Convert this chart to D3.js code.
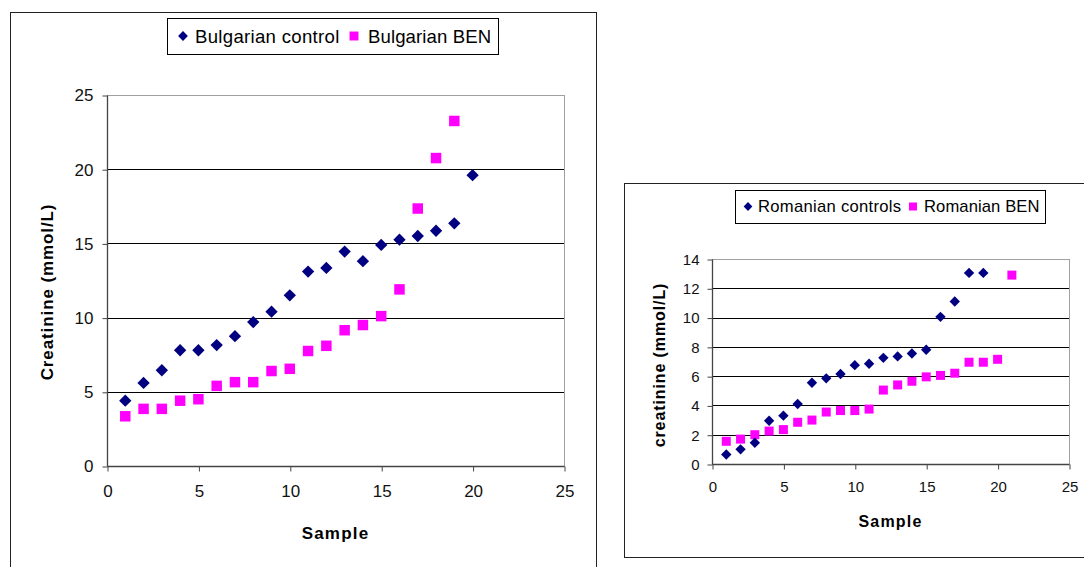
<!DOCTYPE html>
<html>
<head>
<meta charset="utf-8">
<script src="https://cdn.jsdelivr.net/npm/d3@7"></script>
<style>
  body { margin: 0; background: #fff; }
  svg text { font-family: "Liberation Sans", Arial, sans-serif; }
</style>
</head>
<body>
<svg id="chart" width="1084" height="567"></svg>
<script>
// Bulgarian panel
const bgControlX = [1,2,3,4,5,6,7,8,9,10,11,12,13,14,15,16,17,18,19,20];
const bgControl = [4.4,5.6,6.45,7.8,7.8,8.15,8.75,9.7,10.4,11.5,13.1,13.35,14.45,13.8,14.9,15.25,15.5,15.85,16.35,19.6];
const bgBenX = [1,2,3,4,5,6,7,8,9,10,11,12,13,14,15,16,17,18,19];
const bgBen = [3.35,3.85,3.85,4.4,4.5,5.4,5.65,5.65,6.4,6.55,7.75,8.1,9.15,9.5,10.1,11.9,17.35,20.75,23.25];
const bgYTicks = [0,5,10,15,20,25];
const bgXTicks = [0,5,10,15,20,25];

// Romanian panel
const roControlX = [1,2,3,4,5,6,7,8,9,10,11,12,13,14,15,16,17,18,19];
const roControl = [0.65,1.0,1.45,2.95,3.3,4.1,5.55,5.85,6.15,6.75,6.85,7.25,7.35,7.55,7.8,10.05,11.1,13.05,13.05];
const roBenX = [1,2,3,4,5,6,7,8,9,10,11,12,13,14,15,16,17,18,19,20,21];
const roBen = [1.55,1.7,2.0,2.25,2.35,2.85,3.0,3.55,3.65,3.65,3.75,5.05,5.4,5.65,5.95,6.05,6.2,6.95,6.95,7.15,12.9];
const roYTicks = [0,2,4,6,8,10,12,14];
const roXTicks = [0,5,10,15,20,25];

const svg = d3.select("#chart");

function drawPanel(cfg) {
  const g = svg.append("g");

  // outer frame
  g.append("rect")
    .attr("x", cfg.frame[0] + 0.5).attr("y", cfg.frame[1] + 0.5)
    .attr("width", cfg.frame[2]).attr("height", cfg.frame[3])
    .attr("fill", "#fff").attr("stroke", "#222").attr("stroke-width", 1);

  const x = d3.scaleLinear().domain([0, 25]).range([cfg.plot.left, cfg.plot.right]);
  const y = d3.scaleLinear().domain([0, cfg.yMax]).range([cfg.plot.bottom, cfg.plot.top]);

  // plot area border (light gray top/right)
  g.append("rect")
    .attr("x", cfg.plot.left + 0.5).attr("y", cfg.plot.top + 0.5)
    .attr("width", cfg.plot.right - cfg.plot.left)
    .attr("height", cfg.plot.bottom - cfg.plot.top)
    .attr("fill", "none").attr("stroke", "#a0a0a0");

  // gridlines
  g.append("g")
    .selectAll("line")
    .data(cfg.yTicks.filter(d => d > 0 && d < cfg.yMax))
    .join("line")
    .attr("x1", cfg.plot.left).attr("x2", cfg.plot.right)
    .attr("y1", d => Math.round(y(d)) + 0.5).attr("y2", d => Math.round(y(d)) + 0.5)
    .attr("stroke", "#000").attr("stroke-width", 1);

  // axes
  const yAxis = g.append("g")
    .attr("transform", `translate(${cfg.plot.left + 0.5},0.5)`)
    .call(d3.axisLeft(y).tickValues(cfg.yTicks).tickSize(5).tickPadding(cfg.yPad).tickFormat(d3.format("d")));
  const xAxis = g.append("g")
    .attr("transform", `translate(0.5,${cfg.plot.bottom + 0.5})`)
    .call(d3.axisBottom(x).tickValues(cfg.xTicks).tickSize(5).tickPadding(cfg.xPad).tickFormat(d3.format("d")));
  [yAxis, xAxis].forEach(a => {
    a.select(".domain").attr("stroke", "#444").attr("stroke-width", 1.3);
    a.selectAll(".tick line").attr("stroke", "#444");
    a.selectAll(".tick text")
      .attr("fill", "#111")
      .style("font-size", cfg.tickFont + "px")
      .style("font-family", "'Liberation Sans', Arial, sans-serif");
  });
  xAxis.select(".domain").attr("d", `M${cfg.plot.left},0H${cfg.plot.right}`);
  yAxis.select(".domain").attr("d", `M0,${cfg.plot.bottom}V${cfg.plot.top}`);

  // markers
  const diamond = d3.symbol().type(d3.symbolSquare).size(cfg.diamondSize);
  const square = d3.symbol().type(d3.symbolSquare).size(cfg.squareSize);

  g.append("g").selectAll("path")
    .data(cfg.benX.map((d, i) => [d, cfg.ben[i]]))
    .join("path")
    .attr("d", square)
    .attr("transform", d => `translate(${x(d[0])},${y(d[1])})`)
    .attr("fill", "#ff00ff");

  g.append("g").selectAll("path")
    .data(cfg.controlX.map((d, i) => [d, cfg.control[i]]))
    .join("path")
    .attr("d", diamond)
    .attr("transform", d => `translate(${x(d[0])},${y(d[1])}) rotate(45)`)
    .attr("fill", "#000080");

  // axis titles
  g.append("text")
    .attr("x", (cfg.plot.left + cfg.plot.right) / 2 + cfg.xTitleDx)
    .attr("y", cfg.xTitleY)
    .attr("text-anchor", "middle")
    .style("font-size", cfg.titleFont + "px")
    .style("font-weight", "bold")
    .style("letter-spacing", "1.2px")
    .text("Sample");

  g.append("text")
    .attr("transform", `translate(${cfg.yTitleX},${cfg.yTitleY}) rotate(-90)`)
    .attr("text-anchor", "middle")
    .style("font-size", cfg.titleFont + "px")
    .style("font-weight", "bold")
    .style("letter-spacing", "0.9px")
    .text(cfg.yTitle);

  // legend
  const lg = g.append("g");
  lg.append("rect")
    .attr("x", cfg.legend.x + 0.5).attr("y", cfg.legend.y + 0.5)
    .attr("width", cfg.legend.w).attr("height", cfg.legend.h)
    .attr("fill", "#fff").attr("stroke", "#000");
  const cy = cfg.legend.y + cfg.legend.h / 2;
  lg.append("path")
    .attr("d", d3.symbol().type(d3.symbolSquare).size(cfg.legend.mk * 0.6)())
    .attr("transform", `translate(${cfg.legend.x + cfg.legend.m1},${cy}) rotate(45)`)
    .attr("fill", "#000080");
  lg.append("text")
    .attr("x", cfg.legend.x + cfg.legend.t1).attr("y", cy).attr("dy", "0.36em")
    .style("font-size", cfg.legend.font + "px")
    .style("letter-spacing", "0.3px")
    .text(cfg.names[0]);
  lg.append("path")
    .attr("d", d3.symbol().type(d3.symbolSquare).size(cfg.legend.mk)())
    .attr("transform", `translate(${cfg.legend.x + cfg.legend.m2},${cy})`)
    .attr("fill", "#ff00ff");
  lg.append("text")
    .attr("x", cfg.legend.x + cfg.legend.t2).attr("y", cy).attr("dy", "0.36em")
    .style("font-size", cfg.legend.font + "px")
    .style("letter-spacing", "0.1px")
    .text(cfg.names[1]);
}

drawPanel({
  frame: [10, 12, 586, 600],
  plot: { left: 107, right: 564, top: 95, bottom: 466 },
  yMax: 25, yTicks: bgYTicks, xTicks: bgXTicks,
  control: bgControl, controlX: bgControlX, ben: bgBen, benX: bgBenX,
  diamondSize: 76, squareSize: 110,
  tickFont: 17, yPad: 9, xPad: 13,
  titleFont: 17, xTitleDx: 0, xTitleY: 539,
  yTitle: "Creatinine (mmol/L)", yTitleX: 53, yTitleY: 292,
  names: ["Bulgarian control", "Bulgarian BEN"],
  legend: { x: 167, y: 18, w: 331, h: 36, m1: 16, t1: 28, m2: 187, t2: 201, mk: 80, font: 18.6 }
});

drawPanel({
  frame: [624, 183, 500, 374],
  plot: { left: 712, right: 1069, top: 259, bottom: 464 },
  yMax: 14, yTicks: roYTicks, xTicks: roXTicks,
  control: roControl, controlX: roControlX, ben: roBen, benX: roBenX,
  diamondSize: 54, squareSize: 81,
  tickFont: 15, yPad: 8, xPad: 12,
  titleFont: 16, xTitleDx: 0, xTitleY: 527,
  yTitle: "creatinine (mmol/L)", yTitleX: 665, yTitleY: 365,
  names: ["Romanian controls", "Romanian BEN"],
  legend: { x: 735, y: 190, w: 310, h: 33, m1: 13, t1: 23, m2: 178, t2: 189, mk: 64, font: 16.6 }
});
</script>
</body>
</html>
